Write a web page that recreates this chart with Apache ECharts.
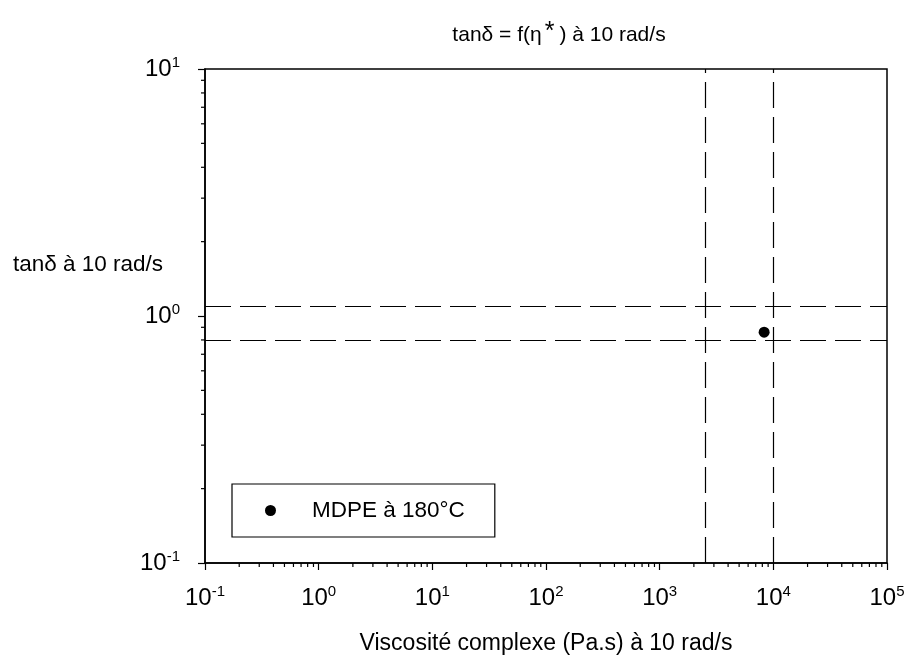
<!DOCTYPE html>
<html><head><meta charset="utf-8">
<script src="https://cdn.jsdelivr.net/npm/echarts@6/dist/echarts.min.js"></script>
<style>html,body{margin:0;padding:0;background:#fff}#c{width:907px;height:655px}</style>
</head><body><div id="c"></div>
<script>
// ---- data ----
const seriesName = 'MDPE à 180°C';
const pointX = [8300];
const pointY = [0.86];
const verticalRefLines = [2500, 10000];
const horizontalRefLines = [1.1, 0.8];
const xRange = [0.1, 100000];
const yRange = [0.1, 10];
const minorMultipliers = [2, 3, 4, 5, 6, 7, 8, 9];
const xDecades = [0.1, 1, 10, 100, 1000, 10000];
const yDecades = [0.1, 1];
const titleText = 'tanδ = f(η{sup|*}) à 10 rad/s';
const xAxisTitle = 'Viscosité complexe (Pa.s) à 10 rad/s';
const yAxisTitle = 'tanδ à 10 rad/s';

// ---- build ----
const FONT = '"Liberation Sans", Arial, sans-serif';
const xMinor = [];
xDecades.forEach(d => minorMultipliers.forEach(m => xMinor.push([d * m, yRange[0]])));
const yMinor = [];
yDecades.forEach(d => minorMultipliers.forEach(m => yMinor.push([xRange[0], d * m])));
const points = pointX.map((x, i) => [x, pointY[i]]);

function powLabel(v) {
  const e = Math.round(Math.log10(v));
  return '{b|10}{s|' + e + '}';
}
const richLbl = {
  b: {fontSize: 24, fontFamily: FONT, color: '#000', lineHeight: 28},
  s: {fontSize: 15, fontFamily: FONT, color: '#000', verticalAlign: 'top', lineHeight: 15}
};

const chart = echarts.init(document.getElementById('c'), null, {renderer: 'canvas'});
chart.setOption({
  animation: false,
  backgroundColor: '#fff',
  title: [
    {text: titleText, left: 554, top: 15, textAlign: 'center',
     textStyle: {fontSize: 21, fontWeight: 'normal', color: '#000', fontFamily: FONT, lineHeight: 30,
       rich: {sup: {fontSize: 25, fontFamily: FONT, color: '#000', verticalAlign: 'top', lineHeight: 14, padding: [0, 5, 0, 3]}}}},
    {text: yAxisTitle, left: 8, top: 248,
     textStyle: {fontSize: 22.5, fontWeight: 'normal', color: '#000', fontFamily: FONT}}
  ],
  grid: {left: 205, right: 20, top: 69, bottom: 92, containLabel: false, outerBoundsMode: 'none',
         show: true, borderColor: '#000', borderWidth: 1.5, backgroundColor: 'transparent'},
  legend: {
    data: [{name: seriesName, icon: 'circle'}],
    left: 232, top: 484,
    itemWidth: 73, itemHeight: 11,
    padding: [15, 30, 15, 33],
    borderColor: '#000', borderWidth: 1.2,
    textStyle: {fontSize: 22.5, color: '#000', fontFamily: FONT},
    selectedMode: false
  },
  xAxis: {
    type: 'log', logBase: 10, min: xRange[0], max: xRange[1],
    name: xAxisTitle, nameLocation: 'middle', nameGap: 69,
    nameTextStyle: {fontSize: 23, color: '#000', fontFamily: FONT},
    axisLine: {lineStyle: {color: '#000', width: 1.5}},
    axisTick: {inside: false, length: 7, lineStyle: {color: '#000', width: 1.2}},
    axisLabel: {margin: 21, formatter: powLabel, rich: richLbl},
    splitLine: {show: false}
  },
  yAxis: {
    type: 'log', logBase: 10, min: yRange[0], max: yRange[1],
    axisLine: {lineStyle: {color: '#000', width: 1.5}},
    axisTick: {inside: false, length: 7, lineStyle: {color: '#000', width: 1.2}},
    axisLabel: {margin: 25, formatter: powLabel, rich: richLbl},
    splitLine: {show: false}
  },
  series: [
    {
      name: seriesName, type: 'scatter', data: points,
      symbol: 'circle', symbolSize: 11,
      itemStyle: {color: '#000', opacity: 1}, z: 5,
      markLine: {
        silent: true, symbol: 'none', animation: false,
        label: {show: false},
        lineStyle: {color: '#000', width: 1.2, type: [26, 9], opacity: 1},
        data: verticalRefLines.map(v => ({xAxis: v})).concat(horizontalRefLines.map(v => ({yAxis: v})))
      }
    },
    {
      type: 'custom', silent: true, clip: false, data: xMinor,
      renderItem: function (params, api) {
        const p = api.coord([api.value(0), api.value(1)]);
        return {type: 'line', shape: {x1: p[0], y1: p[1], x2: p[0], y2: p[1] + 4}, style: {stroke: '#000', lineWidth: 1.2}};
      }
    },
    {
      type: 'custom', silent: true, clip: false, data: yMinor,
      renderItem: function (params, api) {
        const p = api.coord([api.value(0), api.value(1)]);
        return {type: 'line', shape: {x1: p[0] - 4, y1: p[1], x2: p[0], y2: p[1]}, style: {stroke: '#000', lineWidth: 1.2}};
      }
    }
  ]
});
</script></body></html>
